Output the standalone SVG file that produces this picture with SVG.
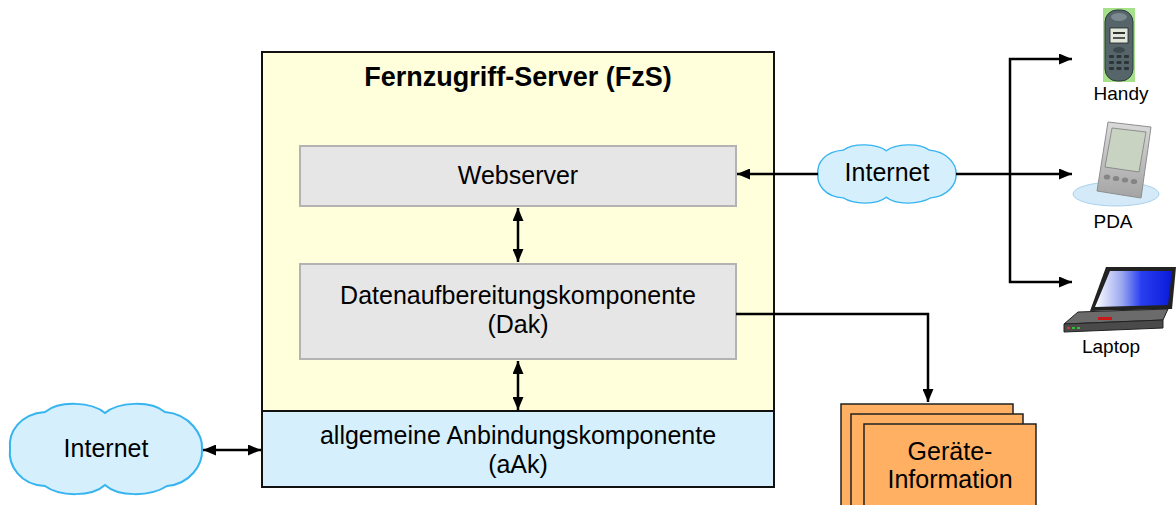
<svg xmlns="http://www.w3.org/2000/svg" width="1176" height="505" viewBox="0 0 1176 505">
  <defs>
    <style>
      text { font-family: "Liberation Sans", Arial, sans-serif; fill: #000; }
      .lbl { font-size: 25px; text-anchor: middle; }
      .dev { font-size: 19px; text-anchor: middle; }
      .title { font-size: 27px; font-weight: bold; text-anchor: middle; }
      .edge { fill: none; stroke: #000; stroke-width: 2.5; }
      .inner { fill: #e6e6e6; stroke: #b3b3b3; stroke-width: 2; }
      .cloud { fill: #d5f0fc; stroke: #36b4f0; stroke-width: 2; }
      .sheet { fill: #ffb062; stroke: #222; stroke-width: 1.5; }
    </style>
    <marker id="arrow" viewBox="0 0 13 11" refX="13" refY="5.5" markerWidth="13" markerHeight="11" markerUnits="userSpaceOnUse" orient="auto-start-reverse">
      <path d="M0,0 L13,5.5 L0,11 Z" fill="#000"/>
    </marker>
    <path id="cloudShape" d="M105,413 C118,402 150,400 165,412 C190,414 203,435 202,449 C203,465 190,484 167,486 C150,497 118,497 105,485 C92,497 60,497 45,486 C20,485 8,465 10,449 C8,432 20,414 45,412 C60,400 92,402 105,413 Z"/>
    <linearGradient id="lcdBlue" x1="0" y1="0" x2="1" y2="0">
      <stop offset="0" stop-color="#ffffff"/>
      <stop offset="0.35" stop-color="#9aa8f0"/>
      <stop offset="0.6" stop-color="#2a3ef0"/>
      <stop offset="1" stop-color="#0a1ad8"/>
    </linearGradient>
    <linearGradient id="pdaBody" x1="0" y1="0" x2="0" y2="1">
      <stop offset="0" stop-color="#dadada"/>
      <stop offset="1" stop-color="#a4a4a4"/>
    </linearGradient>
  </defs>

  <!-- server frame -->
  <g id="fzs">
    <rect x="262" y="52" width="512" height="435" fill="#ffffdc" stroke="#111" stroke-width="2"/>
    <text class="title" x="518" y="86">Fernzugriff-Server (FzS)</text>
  </g>

  <g id="webserver">
    <rect class="inner" x="300" y="146" width="436" height="60"/>
    <text class="lbl" x="518" y="184">Webserver</text>
  </g>

  <g id="dak">
    <rect class="inner" x="300" y="264" width="436" height="95"/>
    <text class="lbl" x="518" y="304">Datenaufbereitungskomponente</text>
    <text class="lbl" x="518" y="333">(Dak)</text>
  </g>

  <g id="aak">
    <rect x="262" y="411" width="512" height="76" fill="#d5f0fc" stroke="#111" stroke-width="2"/>
    <text class="lbl" x="518" y="444">allgemeine Anbindungskomponente</text>
    <text class="lbl" x="518" y="473">(aAk)</text>
  </g>

  <!-- clouds -->
  <g id="internet-left">
    <use href="#cloudShape" class="cloud"/>
    <text class="lbl" x="106" y="457">Internet</text>
  </g>

  <g id="internet-right">
    <use href="#cloudShape" class="cloud" vector-effect="non-scaling-stroke" transform="translate(818,145) scale(0.719,0.644) translate(-10,-404)"/>
    <text class="lbl" x="887" y="181">Internet</text>
  </g>

  <!-- device info stack -->
  <g id="geraete-info">
    <rect class="sheet" x="841" y="404" width="172" height="110"/>
    <rect class="sheet" x="851" y="414" width="172" height="110"/>
    <rect class="sheet" x="864" y="424" width="172" height="110"/>
    <text class="lbl" x="950" y="460">Geräte-</text>
    <text class="lbl" x="950" y="488">Information</text>
  </g>

  <!-- mobile phone -->
  <g id="handy">
    <rect x="1103" y="8" width="32" height="74" fill="#a6e08a"/>
    <rect x="1105" y="10" width="28" height="71" rx="12" fill="#56656a" stroke="#2e3a3c" stroke-width="1"/>
    <ellipse cx="1119" cy="17" rx="8" ry="4" fill="#7a8a8e"/>
    <rect x="1110" y="28" width="18" height="15" fill="#e2e8dc" stroke="#222" stroke-width="0.8"/>
    <rect x="1113" y="32" width="12" height="2" fill="#333"/>
    <rect x="1113" y="37" width="12" height="2" fill="#555"/>
    <ellipse cx="1119" cy="50" rx="6" ry="3" fill="#3d4a4c"/>
    <g fill="#2c3638">
      <rect x="1109" y="55" width="5" height="3" rx="1"/>
      <rect x="1116.5" y="55" width="5" height="3" rx="1"/>
      <rect x="1124" y="55" width="5" height="3" rx="1"/>
      <rect x="1109" y="61" width="5" height="3" rx="1"/>
      <rect x="1116.5" y="61" width="5" height="3" rx="1"/>
      <rect x="1124" y="61" width="5" height="3" rx="1"/>
      <rect x="1109" y="67" width="5" height="3" rx="1"/>
      <rect x="1116.5" y="67" width="5" height="3" rx="1"/>
      <rect x="1124" y="67" width="5" height="3" rx="1"/>
    </g>
    <text class="dev" x="1121" y="100">Handy</text>
  </g>

  <!-- PDA -->
  <g id="pda">
    <ellipse cx="1116" cy="194" rx="43" ry="12" fill="#d4eaf8" stroke="#a8d0ec" stroke-width="1"/>
    <path d="M1108,122 L1151,127 L1141,198 L1097,191 Z" fill="url(#pdaBody)" stroke="#8e8e8e" stroke-width="1"/>
    <path d="M1112,128 L1146,132 L1139,172 L1105,167 Z" fill="#c9d3c2" stroke="#7d7d7d" stroke-width="0.8"/>
    <g fill="#858585">
      <ellipse cx="1107" cy="177" rx="3.2" ry="2.6"/>
      <ellipse cx="1116" cy="178.5" rx="3.2" ry="2.6"/>
      <ellipse cx="1125" cy="180" rx="3.2" ry="2.6"/>
      <ellipse cx="1134" cy="181.5" rx="3.2" ry="2.6"/>
    </g>
    <text class="dev" x="1113" y="228">PDA</text>
  </g>

  <!-- laptop -->
  <g id="laptop">
    <path d="M1106,267 L1176,267 L1172,309 L1090,311 Z" fill="#222"/>
    <path d="M1110,271 L1172,271 L1168,305 L1095,307 Z" fill="url(#lcdBlue)"/>
    <path d="M1078,312 L1168,309 L1163,320 L1064,324 Z" fill="#6b6b6b" stroke="#222" stroke-width="1"/>
    <path d="M1064,324 L1163,320 L1163,328 L1064,332 Z" fill="#4a4a4a" stroke="#222" stroke-width="1"/>
    <rect x="1098" y="317" width="14" height="3" fill="#c81818"/>
    <rect x="1067" y="327" width="3" height="2" fill="#e03030"/>
    <rect x="1072" y="327" width="3" height="2" fill="#30c030"/>
    <rect x="1077" y="327" width="3" height="2" fill="#30c030"/>
    <text class="dev" x="1111" y="353">Laptop</text>
  </g>

  <!-- connectors -->
  <g id="connectors">
    <line class="edge" x1="518" y1="208" x2="518" y2="262" marker-start="url(#arrow)" marker-end="url(#arrow)"/>
    <line class="edge" x1="518" y1="361" x2="518" y2="410" marker-start="url(#arrow)" marker-end="url(#arrow)"/>
    <line class="edge" x1="203" y1="450" x2="261" y2="450" marker-start="url(#arrow)" marker-end="url(#arrow)"/>
    <line class="edge" x1="737" y1="174" x2="818" y2="174" marker-start="url(#arrow)"/>
    <polyline class="edge" points="736,314 928,314 928,402" marker-end="url(#arrow)"/>
    <line class="edge" x1="956" y1="174" x2="1072" y2="174" marker-end="url(#arrow)"/>
    <polyline class="edge" points="1072,59 1010,59 1010,282 1072,282" marker-start="url(#arrow)" marker-end="url(#arrow)"/>
  </g>
</svg>
